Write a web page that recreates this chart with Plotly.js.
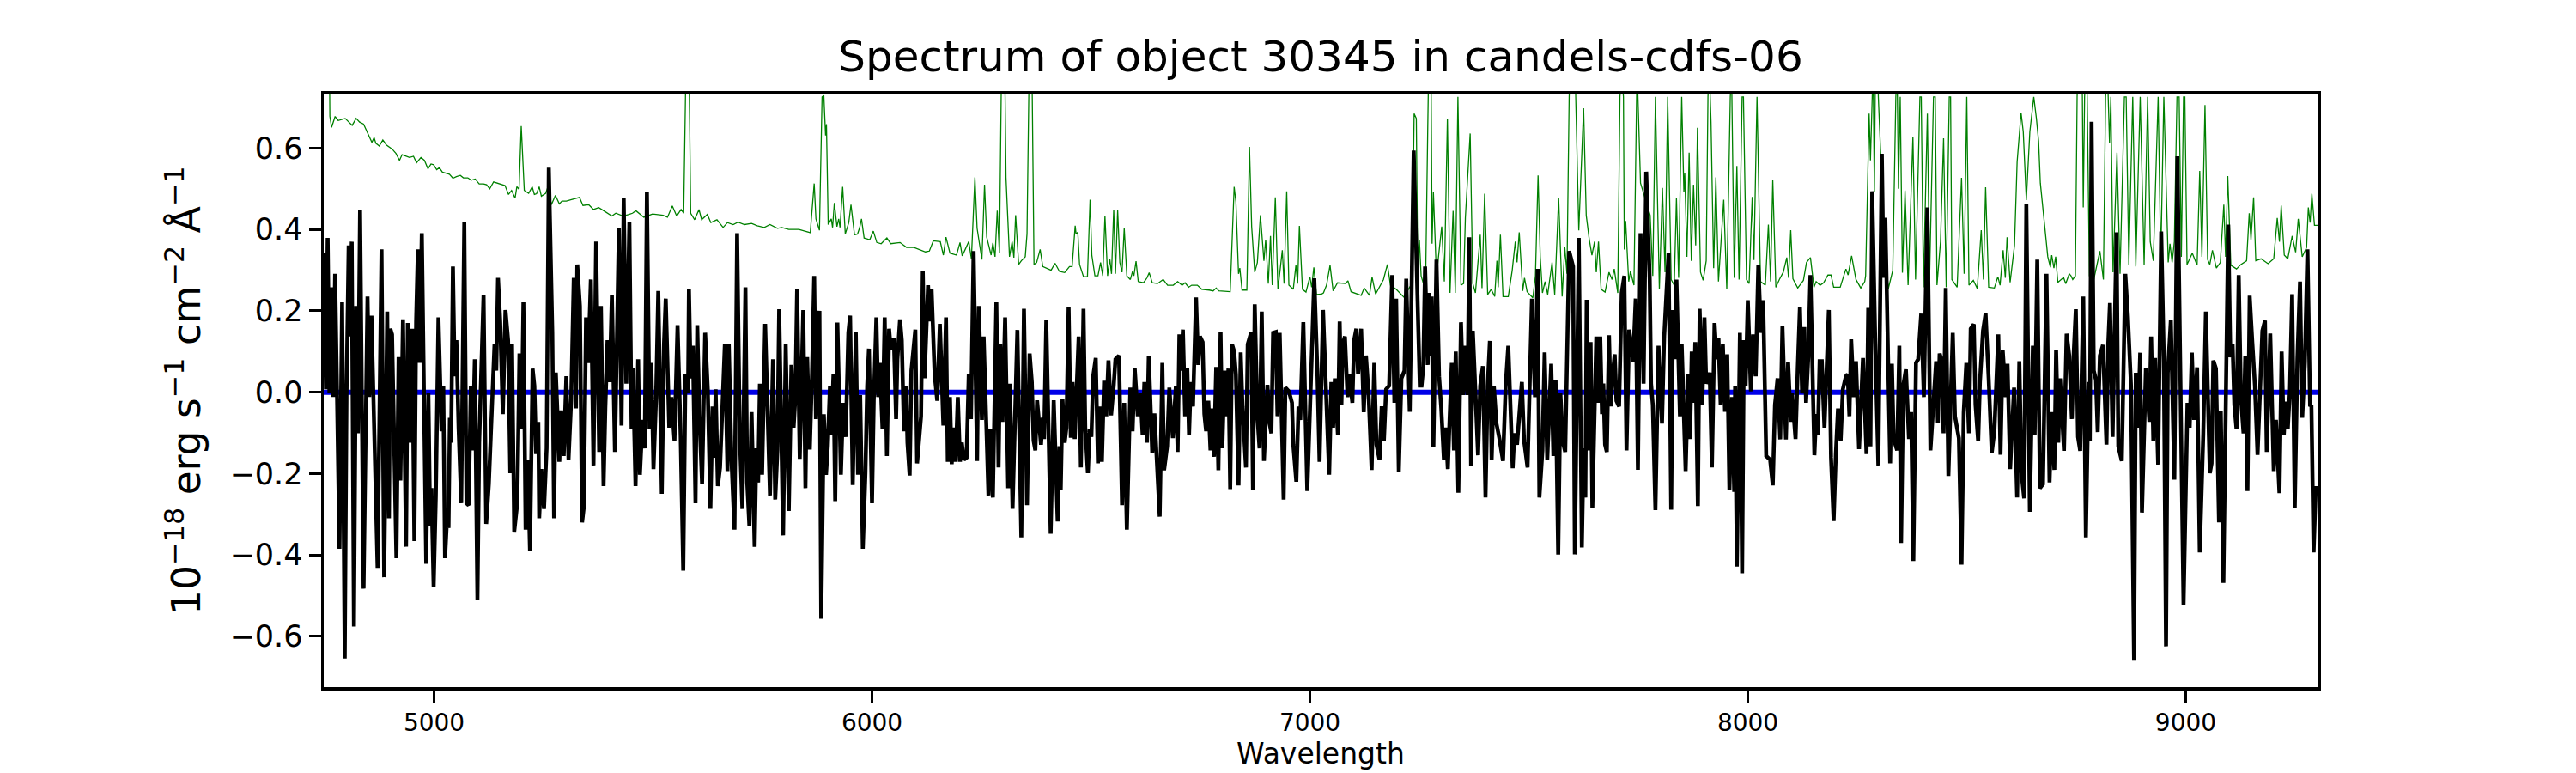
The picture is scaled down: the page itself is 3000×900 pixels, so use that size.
<!DOCTYPE html>
<html><head><meta charset="utf-8">
<script src="https://cdn.plot.ly/plotly-3.0.1.min.js"></script>
<style>html,body{margin:0;padding:0;background:#fff}</style></head>
<body><div id="chart" style="width:3000px;height:900px"></div>
<script>
const wavelengthFlux = [
4748,4749,4753,4757,4761,4765,4770,4774,4779,4784,4790,4796,4800,4805,4808,4812,4817,4822,4826,4831,4839,4848,4852,4857,4864,4871,4880,4886,4893,4897,4900,4904,4914,4919,4923,4929,4936,4940,4946,4950,4955,4959,4963,4967,4972,4976,4982,4987,4991,4994,4999,5004,5010,5017,5021,5025,5030,5033,5036,5039,5043,5047,5051,5056,5062,5069,5074,5079,5084,5088,5093,5099,5103,5113,5119,5125,5131,5138,5142,5146,5151,5157,5163,5169,5174,5178,5183,5190,5195,5200,5204,5209,5214,5219,5225,5229,5233,5238,5240,5245,5251,5257,5262,5270,5274,5278,5286,5290,5296,5302,5307,5313,
5319,5324,5327,5333,5338,5342,5347,5352,5358,5364,5370,5377,5381,5387,5391,5396,5401,5406,5413,5417,5422,5428,5433,5439,5446,5451,5454,5460,5466,5470,5476,5481,5486,5492,5496,5501,5507,5512,5520,5525,5529,5537,5542,5549,5556,5563,5569,5574,5580,5582,5586,5591,5597,5601,5606,5612,5619,5625,5631,5636,5640,5643,5648,5653,5658,5664,5670,5673,5679,5686,5692,5698,5704,5711,5715,5720,5725,5732,5736,5740,5744,5749,5756,5761,5767,5774,5779,5784,5788,5797,5803,5810,5816,5821,5825,5829,5835,5843,5848,5852,5858,5863,5868,5872,5880,5884,
5890,5895,5899,5904,5907,5912,5916,5921,5929,5934,5940,5946,5950,5956,5963,5968,5973,5979,5985,5989,5993,6000,6004,6010,6014,6018,6024,6029,6034,6039,6043,6050,6055,6058,6064,6068,6073,6078,6081,6086,6090,6099,6103,6112,6116,6120,6128,6132,6136,6143,6149,6155,6163,6169,6173,6178,6182,6187,6191,6196,6201,6205,6210,6216,6221,6226,6232,6240,6244,6251,6255,6266,6270,6276,6284,6289,6293,6298,6304,6311,6315,6321,6332,6341,6347,6354,6360,6365,6369,6373,6377,6386,6390,6393,6398,6408,6415,6424,6428,6431,6435,6440,6444,6449,6454,
6458,6463,6472,6477,6483,6487,6493,6497,6501,6505,6511,6516,6520,6525,6530,6535,6540,6546,6552,6556,6564,6571,6576,6582,6590,6595,6600,6607,6613,6618,6622,6628,6632,6640,6645,6657,6663,6667,6674,6679,6687,6694,6698,6702,6706,6710,6715,6720,6724,6728,6733,6740,6745,6749,6755,6759,6763,6768,6773,6777,6781,6786,6791,6796,6800,6805,6809,6814,6818,6822,6827,6831,6837,6842,6846,6854,6858,6866,6870,6874,6880,6885,6890,6895,6903,6908,6912,6916,6922,6926,6931,6940,6944,6952,6959,6962,6969,6974,6978,6985,6994,7001,7010,7017,7022,
7030,7035,7039,7044,7049,7053,7057,7064,7068,7072,7075,7080,7086,7090,7097,7101,7106,7110,7117,7123,7128,7134,7141,7147,7152,7159,7164,7169,7174,7181,7188,7193,7197,7203,7209,7216,7220,7228,7237,7244,7251,7255,7259,7263,7269,7271,7275,7278,7282,7289,7295,7300,7306,7310,7315,7319,7324,7329,7333,7339,7345,7350,7355,7360,7364,7368,7372,7379,7384,7389,7395,7401,7406,7411,7415,7420,7426,7432,7441,7447,7453,7463,7467,7473,7479,7484,7489,7497,7507,7514,7520,7524,7531,7536,7542,7551,7556,7561,7567,7572,7578,7583,7592,
7601,7605,7609,7614,7621,7625,7629,7632,7636,7641,7645,7654,7659,7663,7667,7670,7674,7678,7683,7687,7691,7696,7700,7706,7712,7718,7723,7729,7738,7744,7749,7755,7762,7768,7776,7779,7783,7789,7796,7804,7809,7819,7825,7829,7834,7837,7845,7849,7858,7864,7868,7872,7877,7880,7886,7890,7896,7901,7905,7913,7918,7924,7929,7933,7938,7943,7948,7953,7958,7964,7969,7971,7975,7982,7987,7991,7995,8000,8007,8012,8018,8024,8030,8035,8042,8051,8057,8062,8068,8074,8079,8087,8092,8098,8101,8109,8114,8119,8124,8129,8133,8138,8143,8152,8156,8160,8164,
8169,8175,8185,8190,8196,8201,8206,8212,8217,8224,8228,8232,8236,8242,8247,8254,8263,8271,8275,8280,8284,8291,8298,8306,8310,8314,8320,8325,8329,8333,8341,8346,8350,8355,8361,8368,8373,8378,8384,8389,8396,8402,8410,8417,8422,8430,8434,8438,8442,8447,8452,8458,8468,8473,8482,8488,8493,8499,8505,8509,8516,8520,8526,8530,8537,8543,8550,8557,8563,8572,8577,8582,8589,8593,8599,8608,8615,8620,8625,8631,8636,8644,8651,8655,8661,8667,8674,8682,8689,8694,8700,8704,8709,8713,8722,8728,8734,
8740,8744,8749,8754,8759,8766,8772,8778,8781,8785,8790,8795,8799,8804,8811,8819,8823,8827,8833,8842,8846,8854,8858,8862,8868,8875,8882,8886,8891,8896,8900,8909,8917,8921,8926,8930,8937,8944,8950,8955,8959,8966,8974,8981,8989,8995,9004,9009,9014,9019,9026,9032,9040,9046,9055,9059,9063,9069,9076,9080,9086,9093,9097,9102,9107,9111,9116,9121,9126,9132,9136,9141,9146,9152,9158,9164,9175,9181,9185,9193,9201,9206,9211,9214,9219,9224,9228,9233,9238,9243,9249,9255,9261,9266,9272,9278,9284,9287,9292,9297,9301];
const fluxValues = [
.342,.267,.007,.379,-.003,.258,-.012,.291,-.059,-.385,.221,-.655,-.012,.361,.137,.370,-.576,.212,-.101,.449,-.483,.235,-.012,.188,-.124,-.432,.351,-.455,.198,-.310,.156,.142,-.408,.086,-.217,.179,-.380,.170,-.124,.156,-.366,.174,.351,.072,.391,-.012,-.422,-.003,-.329,-.236,-.478,-.254,.184,-.096,.016,-.408,-.301,-.334,-.063,-.124,.309,.039,.128,-.087,-.273,.417,-.273,-.278,.016,-.143,.081,-.511,-.124,.240,-.324,-.226,-.059,.118,.053,.281,.174,-.054,.202,.128,-.199,.118,-.343,-.273,.095,-.091,.221,-.338,-.166,-.390,.058,.016,-.152,-.073,-.310,-.189,-.287,-.138,.552,.146,-.310,.048,-.171,-.045,-.157,.039,-.166,-.021,
.281,-.040,.314,.212,-.320,-.282,.184,.072,.277,-.180,.370,-.147,.212,-.231,-.040,.128,.025,.240,-.147,.132,.403,-.082,.477,.021,.417,-.091,.058,-.231,.081,-.203,-.068,-.138,.493,-.091,.072,-.189,-.012,.249,-.250,.118,.230,-.087,-.012,-.119,.165,-.105,-.439,.044,-.003,.254,.034,.114,-.273,.165,-.059,-.226,.146,.007,-.287,-.035,-.161,.007,-.231,-.185,-.026,.118,-.194,.118,-.161,-.338,.391,-.105,-.287,.258,-.222,-.329,-.049,-.380,-.138,-.222,.021,-.203,.168,-.003,-.254,.081,-.264,-.143,.204,-.352,.118,-.292,.067,-.087,-.012,.254,-.164,.202,-.236,.086,-.141,.044,.286,-.066,.200,-.557,
-.054,-.203,-.133,.016,-.105,.044,-.268,.171,-.203,-.026,-.110,.146,.188,-.228,.148,-.203,-.007,-.385,-.199,.016,.107,-.273,-.021,.184,-.012,.072,-.091,.184,-.157,.156,.104,.132,-.066,.081,.179,.128,-.096,.016,-.124,-.205,.053,.154,-.175,-.059,.298,.034,.263,.174,.254,.044,-.021,.168,-.082,.184,-.171,-.012,-.177,-.087,-.171,-.012,-.171,-.124,-.166,-.161,.044,-.066,.347,-.169,.212,-.068,.137,-.254,-.091,-.259,.221,-.185,.118,-.073,.184,-.236,.021,-.287,.153,-.357,.205,-.278,.095,.025,-.119,-.143,-.020,-.129,-.063,-.115,.177,-.348,-.020,-.318,-.133,-.240,-.017,-.124,-.087,.210,-.112,
.025,-.115,.137,-.185,.205,-.087,-.199,-.091,-.110,.039,.084,-.175,-.035,-.171,.028,-.059,.078,-.057,.016,.081,.090,-.278,-.026,-.338,.011,-.096,.058,-.059,-.003,-.105,.025,-.124,.089,-.150,-.052,-.306,.072,-.192,-.133,.011,-.113,.016,-.147,.142,.053,.154,-.059,.058,-.105,.025,-.035,.233,.067,.137,.123,-.054,-.096,-.021,-.143,-.040,-.159,.062,-.192,.148,-.138,.053,-.059,.058,-.238,.118,.100,.044,-.229,.098,-.035,-.185,.118,.148,-.240,.216,-.059,-.138,.198,-.169,.018,-.077,-.101,.146,.148,-.059,.146,-.264,.011,.002,-.026,-.129,-.220,-.035,-.068,.172,-.243,-.012,.280,.053,-.171,
.202,.062,-.087,-.203,.025,-.087,.034,-.105,.174,-.031,.118,.137,-.012,.044,-.026,.128,.156,.044,.156,-.049,.090,-.003,-.191,.072,-.129,-.166,-.035,-.119,.007,.016,.288,-.026,.230,-.196,.034,.053,.279,-.048,.594,.295,.016,.016,.062,.309,.067,.244,.090,.235,-.136,.326,.039,-.040,-.166,-.087,-.189,-.068,.072,-.143,.100,-.247,.172,-.007,.114,-.007,.381,-.182,.151,-.026,-.155,.016,.064,-.259,.016,.126,-.166,.016,-.077,-.110,-.169,.016,.114,-.187,-.101,-.129,-.045,.025,-.119,-.185,.230,-.012,.303,-.259,-.143,.098,-.166,.070,-.157,.030,-.399,-.003,-.124,-.147,.347,
.309,-.399,-.012,.379,-.382,-.138,-.259,.227,-.143,.123,-.285,.137,-.026,.137,-.054,.021,-.129,-.147,.140,-.035,.039,.093,-.021,-.035,.244,.286,-.143,.154,.076,.230,-.191,.391,.021,.542,.277,.021,-.031,-.290,.114,-.077,.137,.342,-.289,.202,.081,.277,-.059,.118,-.194,.044,-.115,.100,-.026,.123,-.280,.205,-.031,.184,.021,.048,-.185,.170,.081,.132,-.031,.118,-.048,.093,-.240,-.012,-.245,.016,-.429,.146,-.445,.128,.016,.226,.002,.142,.039,.312,.146,.226,-.157,-.166,-.229,-.031,.034,-.116,.163,-.116,.075,-.073,-.003,-.115,.058,.210,-.003,.160,-.026,.086,.288,-.155,-.054,-.105,.076,
.076,-.087,.202,-.161,-.317,-.152,-.040,-.119,.007,.039,.044,-.059,.130,-.012,.076,-.140,.084,-.152,.207,-.133,.494,.123,-.180,.586,.281,.429,.016,-.175,.070,-.115,-.143,.114,-.371,.016,.056,-.115,-.049,-.415,.072,.081,.193,-.012,.454,-.143,-.059,.076,-.075,.095,.081,-.101,.256,-.206,.146,-.059,-.113,-.424,-.049,.072,-.101,.156,.167,-.031,-.121,.025,.151,.193,.034,-.149,-.096,.142,-.154,.104,-.012,.070,-.189,.011,-.259,.076,-.199,-.261,.463,-.294,.114,-.105,.326,-.236,-.226,.291,-.222,-.049,-.191,.104,-.124,.034,-.144,.144,.090,
-.066,.090,.204,-.110,-.144,.235,-.357,.025,-.119,.665,.053,.030,-.098,.090,.116,-.129,.118,.219,-.110,.393,-.133,-.169,.016,.291,.184,.016,-.660,.048,-.087,.097,-.296,.058,-.073,.137,-.119,.084,-.178,.395,.081,-.625,.047,.177,-.215,.580,-.059,-.522,-.026,-.087,.097,-.068,.061,-.394,-.105,.198,-.199,-.175,.078,.058,-.320,-.045,-.469,.062,.412,.086,.118,-.031,-.091,.288,-.012,-.101,.089,-.243,.237,.123,.016,-.154,.151,.176,-.147,.144,-.194,-.068,-.217,-.248,.100,-.105,-.023,-.091,.007,.241,-.284,.081,.272,-.063,.072,.351,-.035,-.031,-.394,-.236,-.236];
const wavelengthContam = [
4748,4760,4762,4766,4774,4781,4797,4813,4822,4830,4839,4849,4858,4863,4867,4875,4883,4891,4904,4913,4921,4927,4944,4953,4960,4970,4978,4986,4993,4999,5006,5012,5019,5035,5043,5051,5060,5067,5077,5085,5094,5103,5113,5120,5127,5136,5147,5162,5170,5177,5185,5189,5194,5199,5206,5216,5224,5229,5234,5240,5245,5255,5260,5268,5277,5286,5292,5302,5312,
5332,5340,5353,5364,5376,5389,5406,5415,5432,5445,5453,5461,5479,5499,5523,5533,5544,5554,5564,5570,5573,5578,5583,5586,5595,5605,5611,5624,5632,5646,5660,5670,5683,5694,5709,5725,5738,5748,5754,5767,5784,5794,5810,5833,5859,5868,5872,5880,5886,
5890,5894,5896,5900,5907,5910,5914,5920,5924,5927,5933,5939,5947,5952,5960,5967,5972,5976,5982,5995,6003,6011,6021,6034,6043,6064,6079,6096,6122,6131,6140,6156,6163,6169,6178,6193,6201,6206,6221,6227,6235,6240,6251,6257,6262,6272,6276,6281,6286,6291,6295,6299,6304,6306,6314,6320,6324,6328,6335,6341,6350,6354,6358,6362,6366,6370,6376,6384,6390,6409,6418,6428,6440,6451,
6457,6464,6466,6470,6474,6483,6492,6498,6502,6509,6516,6522,6527,6532,6538,6543,6547,6552,6556,6561,6566,6571,6576,6582,6590,6595,6598,6603,6608,6620,6628,6633,6640,6652,6665,6675,6688,6698,6708,6715,6723,6730,6743,6753,6770,6779,6786,6792,6818,6823,6827,6831,6837,6840,6845,6856,6862,6867,6874,6880,6887,6895,6899,6905,6910,6914,6921,6927,6937,6941,6947,6952,6962,6968,6972,6976,6983,6991,7000,7004,7009,7015,7026,
7031,7038,7046,7053,7063,7081,7087,7094,7117,7124,7136,7142,7150,7160,7168,7177,7184,7197,7215,7225,7233,7238,7243,7246,7250,7254,7264,7269,7274,7277,7279,7282,7289,7301,7307,7314,7320,7327,7332,7338,7345,7351,7355,7366,7372,7378,7389,7393,7399,7406,7414,7422,7427,7430,7435,7441,7453,7462,7469,7473,7478,7486,7490,7496,7509,7515,7521,7526,7531,7537,7543,7553,7559,7568,7576,7582,7587,7592,
7602,7607,7614,7625,7631,7638,7644,7650,7654,7659,7665,7674,7683,7690,7695,7703,7708,7712,7716,7718,7721,7728,7732,7740,7746,7747,7755,7777,7783,7789,7798,7805,7811,7817,7825,7832,7837,7842,7849,7854,7856,7861,7866,7871,7876,7881,7885,7892,7898,7905,7909,7912,7916,7922,7927,7933,7945,7952,7960,7963,7969,7975,7980,7987,7990,7997,8003,8010,8014,8021,8029,8040,8047,8052,8057,8064,8072,8081,8089,8093,8098,8103,8114,8127,8134,8143,8151,8156,8165,
8173,8183,8190,8196,8211,8224,8229,8237,8247,8258,8267,8269,8277,8280,8283,8286,8289,8293,8298,8312,8321,8331,8338,8341,8344,8348,8353,8359,8366,8377,8383,8393,8396,8401,8410,8415,8424,8428,8432,8440,8447,8453,8460,8463,8466,8478,8488,8494,8500,8505,8515,8524,8533,8538,8543,8550,8563,8571,8576,8583,8588,8592,8599,8609,8615,8624,8629,8636,8644,8653,8659,8664,8668,8675,8680,8685,8691,8694,8699,8703,8708,8721,8726,8734,
8738,8742,8748,8752,8759,8764,8766,8769,8772,8775,8780,8790,8804,8812,8817,8821,8826,8829,8834,8843,8850,8860,8864,8870,8879,8886,8896,8905,8913,8919,8926,8937,8943,8950,8960,8964,8969,8974,8980,8985,8990,8995,8998,9003,9015,9026,9032,9037,9044,9050,9055,9061,9070,9079,9087,9091,9096,9103,9116,9126,9139,9145,9149,9155,9160,9172,9188,9201,9209,9214,9218,9225,9233,9243,9251,9257,9266,9276,9280,9284,9288,9294,9301];
const contamValues = [
1.0,.95,.678,.651,.678,.668,.673,.656,.673,.664,.659,.636,.614,.626,.612,.605,.620,.608,.598,.587,.570,.584,.577,.580,.564,.577,.570,.549,.561,.559,.547,.552,.541,.536,.526,.530,.533,.527,.527,.521,.524,.512,.512,.510,.500,.517,.513,.508,.486,.496,.477,.505,.499,.654,.496,.489,.505,.486,.488,.505,.482,.489,.505,.461,.484,.463,.470,.470,.473,
.479,.459,.461,.449,.454,.445,.433,.440,.433,.437,.440,.446,.430,.438,.435,.430,.458,.433,.449,.440,.726,1.0,.726,.440,.424,.449,.424,.437,.417,.424,.405,.417,.412,.418,.412,.415,.409,.407,.405,.412,.403,.405,.400,.400,.392,.513,.426,.398,.726,
.729,.631,.659,.412,.426,.405,.465,.407,.426,.405,.505,.389,.417,.461,.387,.389,.405,.426,.379,.375,.396,.368,.365,.379,.365,.368,.356,.356,.345,.347,.372,.370,.337,.381,.342,.337,.368,.335,.370,.328,.528,.403,.326,.510,.381,.337,.367,.333,.446,.342,.726,1.0,.726,.528,.333,.370,.331,.435,.314,.323,.333,.389,.726,1.0,.726,.314,.319,.351,.309,.300,.317,.297,.294,.309,
.309,.409,.389,.393,.314,.284,.284,.473,.337,.286,.286,.319,.286,.433,.286,.328,.291,.449,.291,.447,.319,.295,.403,.286,.277,.297,.286,.322,.272,.269,.281,.294,.269,.267,.277,.263,.263,.272,.263,.269,.258,.263,.263,.253,.251,.249,.256,.249,.247,.407,.505,.468,.291,.305,.251,.251,.603,.407,.295,.319,.435,.323,.375,.267,.384,.263,.479,.253,.349,.267,.494,.263,.253,.312,.267,.409,.253,.246,.284,.258,.307,.240,.241,
.244,.263,.312,.249,.269,.267,.274,.247,.238,.256,.238,.283,.241,.263,.277,.314,.263,.253,.233,.253,.267,.685,.673,.328,.375,.286,.249,.640,1.0,.726,.365,.491,.286,.407,.272,.673,.244,.446,.244,.726,.263,.267,.429,.636,.267,.244,.387,.256,.488,.240,.253,.235,.323,.258,.387,.235,.235,.300,.370,.319,.393,.249,.281,.247,.232,.286,.533,.333,.244,.272,.240,.319,.240,.477,.235,.356,.291,.726,
1.0,.726,.398,.698,.435,.375,.337,.370,.295,.370,.253,.246,.295,.277,.303,.244,.726,.78,.726,.351,.421,.272,.297,.263,.726,.8,.514,.435,.286,.726,.253,.502,.295,.726,.277,.263,.477,.281,.726,.491,.538,.333,.589,.323,.510,.361,.650,.295,.275,.323,.726,.8,.664,.305,.528,.272,.473,.253,.726,.78,.281,.556,.277,.726,.726,.277,.267,.480,.325,.726,.272,.263,.412,.272,.521,.258,.277,.295,.331,.281,.398,.279,.256,.275,.319,.331,.258,.272,.263,
.269,.288,.288,.258,.258,.303,.288,.335,.277,.256,.272,.286,.685,.570,.726,.8,.491,1.0,.726,.361,.255,.30,.726,.78,.500,.726,.294,.496,.263,.628,.277,.726,.726,.258,.685,.277,.726,.726,.263,.370,.624,.258,.726,.726,.277,.258,.527,.291,.726,.263,.275,.255,.398,.277,.504,.258,.256,.284,.263,.349,.281,.381,.270,.361,.566,.687,.640,.472,.640,.726,.673,.617,.514,.437,.375,.333,.307,.337,.305,.333,.270,.282,.267,.291,
.286,.277,.286,.726,1.0,.726,.454,.726,.8,.726,.286,.277,.347,.277,.726,.8,.612,.726,.295,.589,.291,.726,.726,.314,.726,.309,.726,.314,.726,.370,.323,.726,.323,.726,.319,.365,.319,.370,.726,.726,.333,.726,.726,.314,.342,.312,.544,.333,.706,.326,.314,.349,.305,.319,.461,.333,.531,.312,.303,.314,.323,.440,.375,.479,.323,.328,.316,.328,.428,.370,.459,.337,.328,.384,.344,.426,.333,.356,.454,.417,.488,.410,.410];

const title = "Spectrum of object 30345 in candels-cdfs-06";
const yLabel = "10<sup>\u221218</sup> erg s<sup>\u22121</sup> cm<sup>\u22122</sup> \u00C5<sup>\u22121</sup>";
const xLabel = "Wavelength";
const zeroWave = [4748, 9301];
const zeroFlux = [0, 0];
const font = "DejaVu Sans";

Plotly.newPlot("chart", [
 {x: wavelengthContam, y: contamValues, mode: "lines", line: {color: "#008000", width: 1.3}, hoverinfo: "skip"},
 {x: zeroWave, y: zeroFlux, mode: "lines", line: {color: "#0000e8", width: 6}, hoverinfo: "skip"},
 {x: wavelengthFlux, y: fluxValues, mode: "lines", line: {color: "#000000", width: 4.6}, hoverinfo: "skip"}
], {
 width: 3000, height: 900, showlegend: false,
 paper_bgcolor: "#fff", plot_bgcolor: "#fff",
 margin: {l: 377, r: 301, t: 109, b: 100, pad: 0},
 font: {family: font, color: "#000"},
 title: {text: title, font: {family: font, size: 50, color: "#000"}, x: 0.5, xref: "paper", xanchor: "center", y: 1 - 65/900, yref: "container", yanchor: "middle"},
 xaxis: {range: [4748, 9301], tickmode: "array", tickvals: [5000,6000,7000,8000,9000], ticktext: ["5000","6000","7000","8000","9000"],
   ticks: "outside", ticklen: 14, tickwidth: 3, tickcolor: "#000", showline: true, mirror: true, linecolor: "#000", linewidth: 3.5,
   showgrid: false, zeroline: false, tickfont: {family: font, size: 28, color: "#000"},
   title: {text: xLabel, font: {family: font, size: 33, color: "#000"}, standoff: 8}},
 yaxis: {range: [-0.725, 0.734], tickmode: "array", tickvals: [-0.6,-0.4,-0.2,0,0.2,0.4,0.6], ticktext: ["\u22120.6","\u22120.4","\u22120.2","0.0","0.2","0.4","0.6"],
   ticks: "outside", ticklen: 14, tickwidth: 3, tickcolor: "#000", showline: true, mirror: true, linecolor: "#000", linewidth: 3.5,
   showgrid: false, zeroline: false, tickfont: {family: font, size: 35, color: "#000"},
   title: {text: yLabel, font: {family: font, size: 45.5, color: "#000"}, standoff: 20}}
}, {staticPlot: true, displayModeBar: false});
</script></body></html>
